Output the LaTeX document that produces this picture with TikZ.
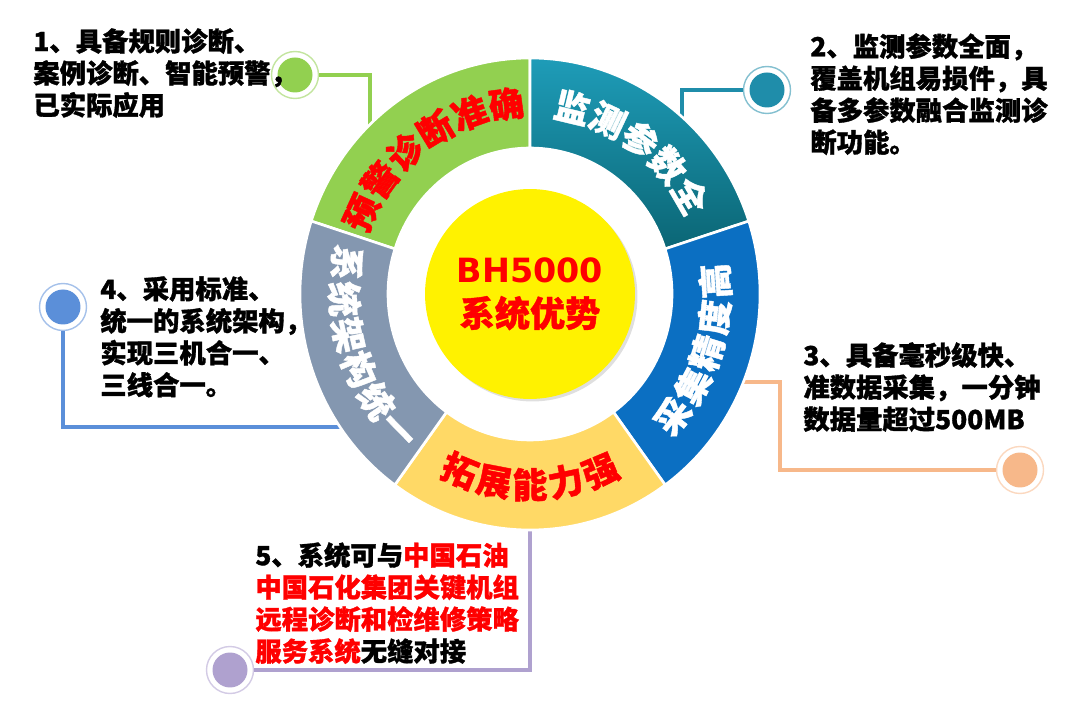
\documentclass[tikz,border=0pt]{standalone}
\usepackage{xcolor}
\usepackage{fontspec}
\usetikzlibrary{decorations.text,shadows}
\newfontfamily\cjk{Noto Sans CJK SC}[BoldFeatures={FakeBold=1.2}]
\newfontfamily\latn{DejaVu Sans}
\definecolor{ringgreen}{HTML}{92D050}
\definecolor{tealtop}{HTML}{1E9CB8}
\definecolor{tealbot}{HTML}{0B6675}
\definecolor{ringblue}{HTML}{0B6FC2}
\definecolor{ringyellow}{HTML}{FFD966}
\definecolor{ringgray}{HTML}{8497B0}
\definecolor{lineteal}{HTML}{1F8DAA}
\definecolor{lineblue}{HTML}{5B8FD9}
\definecolor{linepeach}{HTML}{F7B88A}
\definecolor{linepurple}{HTML}{AFA1CF}
\newcommand{\ringfont}{\cjk\bfseries\fontsize{20}{24}\selectfont}
\newcommand{\redtxt}[1]{\textcolor{red}{#1}}
\newcommand{\gap}[1]{{#1\kern2pt}}
\tikzstyle{note} = [anchor=north west, inner sep=0pt, align=left, font=\cjk\bfseries\fontsize{15}{18.2}\selectfont]
\tikzstyle{link} = [line width=2pt]
\tikzstyle{part} = [draw=white, line width=1.5pt]
\tikzset{dot/.style={circle, draw=#1!55, line width=0.8pt, fill=white, minimum size=0.94cm, inner sep=0pt,
  path picture={\fill[#1] (path picture bounding box.center) circle (0.35cm);}}}
% one piece of the ring, from angle #2 to angle #3
\newcommand{\ringpart}[3]{\path[part,#1] ({530+230*cos(#2)},{416+236*sin(#2)})
  arc[start angle=#2,end angle=#3,x radius=230,y radius=236]
  -- ({530+142*cos(#3)},{416+146*sin(#3)})
  arc[start angle=#3,end angle=#2,x radius=142,y radius=146] -- cycle;}
% curved label of a piece
\newcommand{\ringtext}[6]{\path[decorate,decoration={text along path,text align=center,
  text={|\ringfont\color{#1}|#6}}] ({530+#4*cos(#2)},{416+#5*sin(#2)})
  arc[start angle=#2,end angle=#3,x radius=#4,y radius=#5];}

\begin{document}
\begin{tikzpicture}[x=0.02cm,y=0.02cm]
\useasboundingbox (0,0) rectangle (1071,710);
\draw (295,635) node (c1) [dot=ringgreen] {};
\draw (767,620) node (c2) [dot=lineteal] {};
\draw (1020,240) node (c3) [dot=linepeach] {};
\draw (63,403) node (c4) [dot=lineblue] {};
\draw (230,40) node (c5) [dot=linepurple] {};
\coordinate (r1) at (370,575);
\coordinate (r2) at (682,575);
\coordinate (k3) at (780,328);
\coordinate (r3) at (730,328);
\coordinate (r4) at (350,283);
\coordinate (r5) at (530,190);
\draw [link,ringgreen] (c1.east) -| (r1);
\draw [link,lineteal] (c2.west) -| (r2);
\draw [link,linepeach] (c3.west) -| (k3) -- (r3);
\draw [link,lineblue] (c4.south) |- (r4);
\draw [link,linepurple] (c5.east) -| (r5);
% ring
\ringpart{fill=ringgreen}{90}{162}
\ringpart{top color=tealtop,bottom color=tealbot}{18}{90}
\ringpart{fill=ringblue}{-54}{18}
\ringpart{fill=ringyellow}{234}{306}
\ringpart{fill=ringgray}{162}{234}
\ringtext{red}{160}{92}{173}{178}{预警诊断准确}
\ringtext{white}{88}{20}{173}{178}{监测参数全}
\ringtext{white}{-53}{17}{199}{204}{\gap{采}\gap{集}\gap{精}\gap{度}高}
\ringtext{red}{235}{305}{199}{204}{\gap{拓}\gap{展}\gap{能}\gap{力}强}
\ringtext{white}{163}{233}{199}{204}{\gap{系}\gap{统}\gap{架}\gap{构}\gap{统}一}
\node (core) [circle, fill=yellow, minimum size=4.2cm, inner sep=0pt, align=center, text=red,
  drop shadow={shadow xshift=0.05cm,shadow yshift=-0.05cm,opacity=0.25},
  font=\cjk\bfseries\fontsize{20}{25}\selectfont] at (530,416)
  {{\latn\bfseries\fontsize{19}{25}\selectfont BH5000}\\系统优势};
% notes
\node (t1) [note] at (33,682) {1、具备规则诊断、\\案例诊断、智能预警，\\已实际应用};
\node (t2) [note] at (810,677) {2、监测参数全面，\\覆盖机组易损件，具\\备多参数融合监测诊\\断功能。};
\node (t3) [note] at (803,368) {3、具备毫秒级快、\\准数据采集，一分钟\\数据量超过500MB};
\node (t4) [note] at (100,434) {4、采用标准、\\统一的系统架构，\\实现三机合一、\\三线合一。};
\node (t5) [note] at (255,168) {5、系统可与\redtxt{中国石油}\\\redtxt{中国石化集团关键机组}\\\redtxt{远程诊断和检维修策略}\\\redtxt{服务系统}无缝对接};
\end{tikzpicture}
\end{document}
